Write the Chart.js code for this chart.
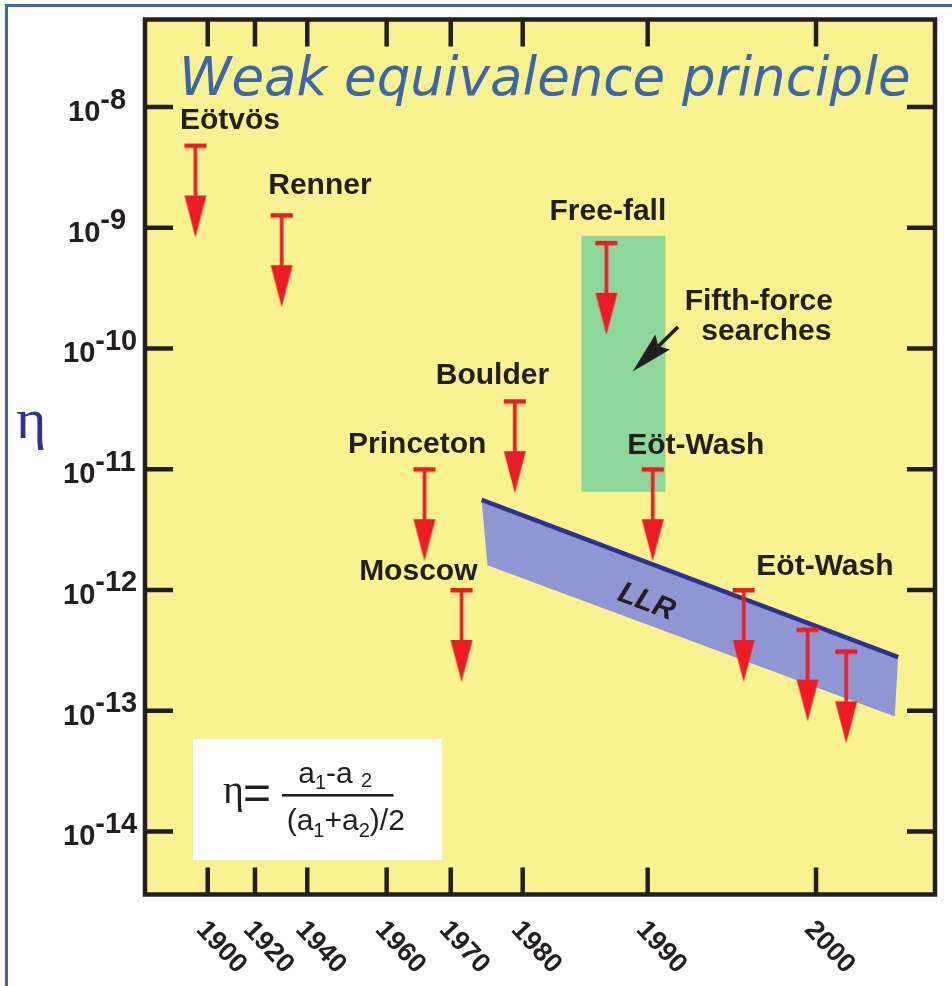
<!DOCTYPE html>
<html>
<head>
<meta charset="utf-8">
<title>Weak equivalence principle</title>
<script src="https://cdn.jsdelivr.net/npm/chart.js@4.4.1/dist/chart.umd.min.js"></script>
<style>
  html, body { margin: 0; padding: 0; background: #fff; }
  #wrap { width: 952px; height: 986px; }
</style>
</head>
<body>
<div id="wrap"><canvas id="wepChart" width="952" height="986"></canvas></div>
<script>
// Upper limits on eta, one arrow per measurement
const experiments = ['Eötvös', 'Renner', 'Princeton', 'Moscow', 'Boulder', 'Free-fall', 'Eöt-Wash', 'Eöt-Wash', 'Eöt-Wash', 'Eöt-Wash'];
const years = [1894.8, 1930.2, 1965.9, 1971.5, 1978.9, 1986.7, 1990.3, 1995.7, 1999.5, 2001.8];
const etaLimits = [4.8e-9, 1.27e-9, 1e-11, 1e-12, 3.66e-11, 7.5e-10, 1e-11, 1e-12, 4.7e-13, 3.1e-13];

// Lunar laser ranging band (upper edge, lower edge)
const llrTopYears = [1974.3, 2004.9];
const llrTopEta = [5.58e-12, 2.78e-13];
const llrBottomYears = [1975.1, 2004.7];
const llrBottomEta = [1.6e-12, 8.93e-14];

// Fifth-force searches region
const fifthForceYears = [1984.7, 1991.05];
const fifthForceEta = [8.6e-10, 6.5e-12];
const fifthForcePointer = { from: [1991.8, 1.51e-10], to: [1988.8, 6.46e-11] };

// Axis ticks
const yearTicks = [1900, 1920, 1940, 1960, 1970, 1980, 1990, 2000];
const etaExponents = [-8, -9, -10, -11, -12, -13, -14];

// ---- layout ----
// the year axis is stretched: each tick year sits at its own fraction of the width
const yearRange = [1873.5, 2007.1];
const yearTickSpots = [0.0794, 0.1392, 0.2054, 0.3059, 0.3870, 0.4781, 0.6363, 0.8494];
// label offsets (px) from the top of each arrow, null = no label
const labelOffsets = [[-15.5, -16.7], [-13.4, -21.7], [-76.4, -16], [-102.4, -10], [-79, -16.7],
  [-56.9, -22.6], [-25.5, -15.6], [12.7, -14.8], null, null];

const ink = '#231f20';
const red = '#ec1c24';
const sans = '"Liberation Sans", Arial, sans-serif';

Chart.defaults.font.family = sans;

class StretchedYearScale extends Chart.LinearScale {
  static id = 'stretchedYear';
  static defaults = {};

  knots() {
    return [[yearRange[0], 0], ...yearTicks.map((y, i) => [y, yearTickSpots[i]]), [yearRange[1], 1]];
  }

  getPixelForValue(value) {
    const k = this.knots();
    let i = 1;
    while (i < k.length - 1 && value > k[i][0]) i++;
    const [y0, f0] = k[i - 1];
    const [y1, f1] = k[i];
    return this.getPixelForDecimal(f0 + (value - y0) / (y1 - y0) * (f1 - f0));
  }

  getValueForPixel(pixel) {
    const d = this.getDecimalForPixel(pixel);
    const k = this.knots();
    let i = 1;
    while (i < k.length - 1 && d > k[i][1]) i++;
    const [y0, f0] = k[i - 1];
    const [y1, f1] = k[i];
    return y0 + (d - f0) / (f1 - f0) * (y1 - y0);
  }
}
Chart.register(StretchedYearScale);

// red "upper limit" arrow; the cap sits at the centre of the image
function makeArrow() {
  const c = document.createElement('canvas');
  c.width = 24;
  c.height = 188;
  const g = c.getContext('2d');
  g.fillStyle = red;
  g.fillRect(1, 92, 22, 4.5);
  g.fillRect(10.2, 94, 3.6, 52);
  g.beginPath();
  g.moveTo(1, 144);
  g.lineTo(23, 144);
  g.lineTo(12, 186);
  g.closePath();
  g.fill();
  return c;
}

function drawRun(ctx, x, y, parts) {
  for (const [text, size, dy] of parts) {
    ctx.font = size + 'px ' + sans;
    ctx.fillText(text, x, y + dy);
    x += ctx.measureText(text).width;
  }
}

const decor = {
  id: 'decor',
  beforeDraw(chart) {
    const { ctx, chartArea: a } = chart;
    ctx.save();
    ctx.fillStyle = '#fff';
    ctx.fillRect(0, 0, chart.width, chart.height);
    ctx.fillStyle = '#3d6aa8';
    ctx.fillRect(5, 4, 3, chart.height);
    ctx.fillRect(5, 4, chart.width, 3);
    ctx.fillStyle = '#f8f290';
    ctx.fillRect(a.left, a.top, a.width, a.height);
    ctx.restore();
  },
  afterDatasetsDraw(chart) {
    const { ctx, scales: { x, y } } = chart;
    ctx.save();
    ctx.fillStyle = ink;
    ctx.textAlign = 'left';
    ctx.textBaseline = 'alphabetic';
    ctx.font = 'bold 30px ' + sans;
    experiments.forEach((name, i) => {
      const off = labelOffsets[i];
      if (!off) return;
      ctx.fillText(name, x.getPixelForValue(years[i]) + off[0], y.getPixelForValue(etaLimits[i]) + off[1]);
    });

    // pointer into the fifth-force box
    const tx = x.getPixelForValue(fifthForcePointer.from[0]);
    const ty = y.getPixelForValue(fifthForcePointer.from[1]);
    const hx = x.getPixelForValue(fifthForcePointer.to[0]);
    const hy = y.getPixelForValue(fifthForcePointer.to[1]);
    const ang = Math.atan2(hy - ty, hx - tx);
    const len = Math.hypot(hx - tx, hy - ty);
    ctx.save();
    ctx.translate(tx, ty);
    ctx.rotate(ang);
    ctx.fillRect(0, -1.8, len - 36, 3.6);
    ctx.beginPath();
    ctx.moveTo(len, 0);
    ctx.lineTo(len - 42, -10.5);
    ctx.lineTo(len - 36, 0);
    ctx.lineTo(len - 42, 10.5);
    ctx.closePath();
    ctx.fill();
    ctx.restore();
    ctx.textAlign = 'right';
    ctx.fillText('Fifth-force', tx + 155, ty - 17.3);
    ctx.fillText('searches', tx + 153.5, ty + 13.3);

    // LLR label along the band
    const x0 = x.getPixelForValue(llrTopYears[0]), y0 = y.getPixelForValue(llrTopEta[0]);
    const x1 = x.getPixelForValue(llrTopYears[1]), y1 = y.getPixelForValue(llrTopEta[1]);
    ctx.translate(x.getPixelForValue(1989.9), y.getPixelForValue(7.9e-13));
    ctx.rotate(Math.atan2(y1 - y0, x1 - x0));
    ctx.textAlign = 'center';
    ctx.textBaseline = 'middle';
    ctx.font = 'italic bold 30px ' + sans;
    ctx.fillText('LLR', 0, 0);
    ctx.restore();
  },
  afterDraw(chart) {
    const { ctx, chartArea: a, scales: { x, y } } = chart;
    ctx.save();
    ctx.fillStyle = ink;
    ctx.strokeStyle = ink;

    // inward ticks on all four sides
    ctx.lineWidth = 4.5;
    ctx.beginPath();
    yearTicks.forEach(v => {
      const px = x.getPixelForValue(v);
      ctx.moveTo(px, a.top); ctx.lineTo(px, a.top + 27);
      ctx.moveTo(px, a.bottom); ctx.lineTo(px, a.bottom - 27);
    });
    etaExponents.forEach(e => {
      const py = y.getPixelForValue(10 ** e);
      ctx.moveTo(a.left, py); ctx.lineTo(a.left + 28, py);
      ctx.moveTo(a.right, py); ctx.lineTo(a.right - 28, py);
    });
    ctx.stroke();
    ctx.strokeRect(a.left, a.top, a.width, a.height);

    // year labels, slanted downwards
    ctx.font = 'bold 27px ' + sans;
    ctx.textAlign = 'left';
    ctx.textBaseline = 'middle';
    yearTicks.forEach(v => {
      ctx.save();
      ctx.translate(x.getPixelForValue(v) - 7, a.bottom + 31);
      ctx.rotate(47 * Math.PI / 180);
      ctx.fillText(String(v), 0, 0);
      ctx.restore();
    });

    // powers of ten
    ctx.textBaseline = 'alphabetic';
    etaExponents.forEach(e => {
      const py = y.getPixelForValue(10 ** e);
      const left = e > -10 ? 68 : 63;
      ctx.font = 'bold 29px ' + sans;
      ctx.fillText('10', left, py + 14);
      const w = ctx.measureText('10').width;
      ctx.font = 'bold 29px ' + sans;
      ctx.fillText(String(e), left + w, py + 1.5);
    });

    // axis symbol
    ctx.fillStyle = '#2e3192';
    ctx.font = '58px "Liberation Serif", serif';
    ctx.fillText('η', 16, 438);

    // title
    ctx.fillStyle = '#3a67aa';
    ctx.font = 'italic 53px "DejaVu Sans", sans-serif';
    ctx.fillText('Weak equivalence principle', 179, 95);

    // definition box
    ctx.fillStyle = '#fff';
    ctx.fillRect(193, 739, 249, 121);
    ctx.fillStyle = ink;
    ctx.font = '40px "Liberation Serif", serif';
    ctx.fillText('η', 223, 803);
    ctx.font = '48px ' + sans;
    ctx.fillText('=', 243, 809);
    ctx.fillRect(282, 794, 111.5, 2.6);
    drawRun(ctx, 298.3, 783.3, [['a', 30, 0], ['1', 20, 6], ['-a', 30, 0], [' ', 30, 0], ['2', 20, 4]]);
    drawRun(ctx, 286.7, 830, [['(a', 30, 0], ['1', 20, 7], ['+a', 30, 0], ['2', 20, 7], [')/2', 30, 0]]);
    ctx.restore();
  }
};

const pts = (xs, ys) => xs.map((v, i) => ({ x: v, y: ys[i] }));

const data = {
  datasets: [
    {
      label: 'Upper limits',
      data: pts(years, etaLimits),
      showLine: false,
      pointStyle: makeArrow(),
      pointRadius: 10,
      order: 0
    },
    {
      label: 'LLR edge',
      data: pts(llrTopYears, llrTopEta),
      borderColor: '#2e3192',
      borderWidth: 4.5,
      pointRadius: 0,
      fill: false,
      order: 1
    },
    {
      label: 'LLR',
      data: [
        { x: llrTopYears[0], y: llrTopEta[0] },
        { x: llrTopYears[1], y: llrTopEta[1] },
        { x: llrBottomYears[1], y: llrBottomEta[1] },
        { x: llrBottomYears[0], y: llrBottomEta[0] }
      ],
      borderWidth: 0,
      backgroundColor: '#9096d3',
      fill: 'shape',
      pointRadius: 0,
      order: 2
    },
    {
      label: 'Fifth-force searches',
      data: [
        { x: fifthForceYears[0], y: fifthForceEta[0] },
        { x: fifthForceYears[1], y: fifthForceEta[0] },
        { x: fifthForceYears[1], y: fifthForceEta[1] },
        { x: fifthForceYears[0], y: fifthForceEta[1] }
      ],
      borderWidth: 0,
      backgroundColor: '#8ed79b',
      fill: 'shape',
      pointRadius: 0,
      order: 3
    }
  ]
};

const config = {
  type: 'line',
  data: data,
  options: {
    responsive: false,
    animation: false,
    events: [],
    layout: {
      padding: { left: 145, top: 19.5, right: 17, bottom: 91.5 }
    },
    plugins: {
      legend: { display: false },
      tooltip: { enabled: false },
      colors: { enabled: false }
    },
    scales: {
      x: {
        type: 'stretchedYear',
        display: false,
        min: yearRange[0],
        max: yearRange[1]
      },
      y: {
        type: 'logarithmic',
        display: false,
        min: Math.pow(10, -14.47),
        max: Math.pow(10, -7.2747)
      }
    }
  },
  plugins: [decor]
};

const wepChart = new Chart(document.getElementById('wepChart'), config);
</script>
</body>
</html>
